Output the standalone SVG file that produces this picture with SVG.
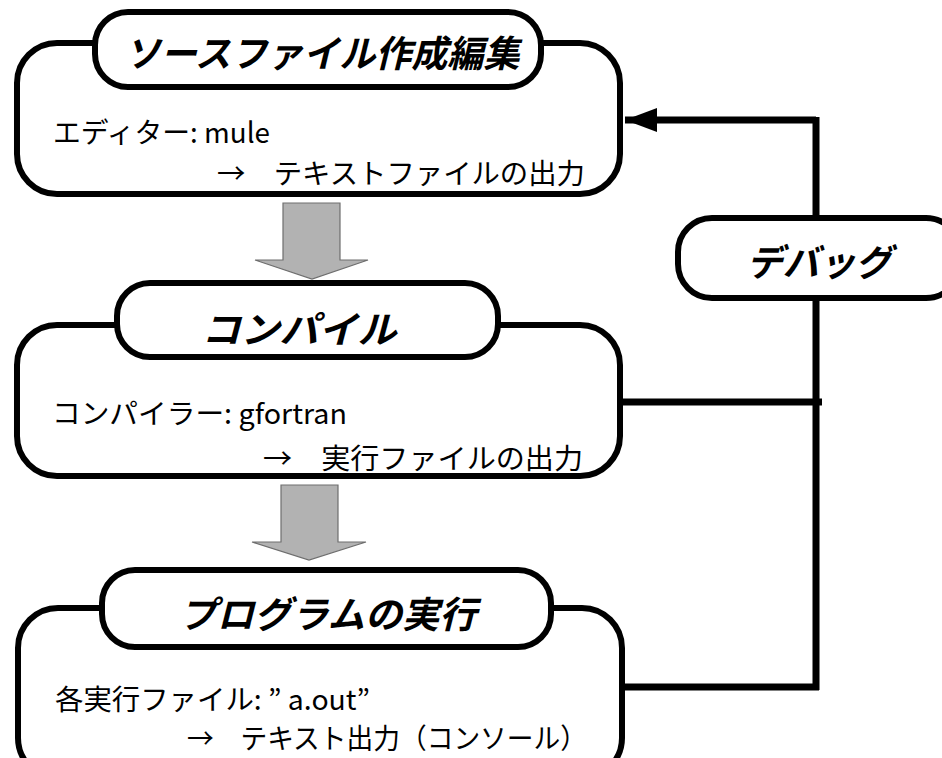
<svg xmlns="http://www.w3.org/2000/svg" width="942" height="758" viewBox="0 0 942 758">
<style>
.frame{fill:#fff;stroke:#000;stroke-width:6}
.title{font-family:"Noto Sans CJK JP","Liberation Sans",sans-serif;font-size:37px;font-weight:700;font-style:italic;fill:#000}
.body{font-family:"Noto Sans CJK JP","Liberation Sans",sans-serif;font-size:28px;fill:#000}
.line{fill:none;stroke:#000;stroke-width:7}
.flow{fill:#b2b2b2;stroke:#6e6e6e;stroke-width:1.2}
</style>
<defs>
<marker id="ah" markerUnits="userSpaceOnUse" markerWidth="36" markerHeight="26" refX="34" refY="13" orient="auto">
<path d="M2,1 L34,13 L2,25 Z" fill="#000"/>
</marker>
</defs>
<rect width="942" height="758" fill="#fff"/>
<g id="connectors">
<path class="flow" d="M283,203 H340 V260 H368 L312,279 L255,260 H283 Z"/>
<path class="flow" d="M281,485 H338 V542 H366 L309,560 L252,542 H281 Z"/>
<path class="line" d="M816,120 H625" marker-end="url(#ah)"/>
<path class="line" d="M816,117 V220"/>
<path class="line" d="M816,296 V690"/>
<path class="line" d="M620,402 H822"/>
<path class="line" d="M622,687 H819"/>
</g>
<g id="node-source">
<rect class="frame" x="17" y="43" width="603" height="151" rx="40"/>
<rect class="frame" x="95" y="12" width="446" height="75" rx="33"/>
<text class="title" x="322" y="67" text-anchor="middle" textLength="395" lengthAdjust="spacingAndGlyphs">ソースファイル作成編集</text>
<text class="body" x="53" y="143" textLength="217" lengthAdjust="spacingAndGlyphs">エディター: mule</text>
<text class="body" x="217" y="184" textLength="368" lengthAdjust="spacingAndGlyphs">→　テキストファイルの出力</text>
</g>
<g id="node-compile">
<rect class="frame" x="17" y="325" width="603" height="151" rx="40"/>
<rect class="frame" x="117" y="283" width="381" height="74" rx="33"/>
<text class="title" x="299" y="343" text-anchor="middle" textLength="195" lengthAdjust="spacingAndGlyphs">コンパイル</text>
<text class="body" x="52" y="424" textLength="295" lengthAdjust="spacingAndGlyphs">コンパイラー: gfortran</text>
<text class="body" x="263" y="469" textLength="320" lengthAdjust="spacingAndGlyphs">→　実行ファイルの出力</text>
</g>
<g id="node-run">
<rect class="frame" x="18" y="608" width="604" height="170" rx="40"/>
<rect class="frame" x="102" y="570" width="449" height="77" rx="33"/>
<text class="title" x="328" y="628" text-anchor="middle" textLength="297" lengthAdjust="spacingAndGlyphs">プログラムの実行</text>
<text class="body" x="55" y="710" textLength="315" lengthAdjust="spacingAndGlyphs">各実行ファイル: ” a.out”</text>
<text class="body" x="187" y="749" textLength="400" lengthAdjust="spacingAndGlyphs">→　テキスト出力（コンソール）</text>
</g>
<g id="node-debug">
<rect class="frame" x="678" y="218" width="282" height="80" rx="34"/>
<text class="title" x="819" y="276" text-anchor="middle" textLength="145" lengthAdjust="spacingAndGlyphs">デバッグ</text>
</g>
</svg>
